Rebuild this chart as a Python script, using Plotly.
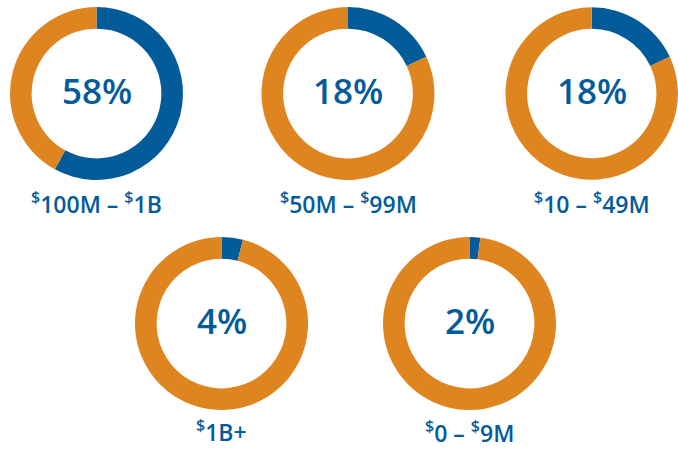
import plotly.graph_objects as go

categories = ["$100M – $1B", "$50M – $99M", "$10 – $49M", "$1B+", "$0 – $9M"]
label_html = ["<sup>$</sup>100M – <sup>$</sup>1B", "<sup>$</sup>50M – <sup>$</sup>99M",
              "<sup>$</sup>10 – <sup>$</sup>49M", "<sup>$</sup>1B+", "<sup>$</sup>0 – <sup>$</sup>9M"]
share = [58, 18, 18, 4, 2]
rest = [42, 82, 82, 96, 98]

BLUE = "#045B9A"
ORANGE = "#DF8520"
W, H = 678, 449
centers = [(96.5, 93.5), (348, 93.5), (592, 93.5), (221.5, 323.5), (469.5, 323.5)]
R = 86.5
label_y = [203, 203, 203, 431, 432]

fig = go.Figure()
for i, cat in enumerate(categories):
    cx, cy = centers[i]
    fig.add_trace(go.Pie(
        values=[share[i], rest[i]], labels=["share", "other"],
        marker=dict(colors=[BLUE, ORANGE], line=dict(width=0)),
        hole=0.75, sort=False, direction="clockwise", rotation=0,
        textinfo="none", hoverinfo="skip", showlegend=False,
        domain=dict(x=[(cx - R) / W, min(1, (cx + R) / W)],
                    y=[1 - (cy + R) / H, 1 - (cy - R) / H]),
    ))
    fig.add_annotation(x=cx / W, y=1 - (cy - 3) / H, xref="paper", yref="paper",
                       text=f"{share[i]}%", showarrow=False,
                       font=dict(family="Open Sans", size=35, color=BLUE, weight=600),
                       xanchor="center", yanchor="middle")
    fig.add_annotation(x=cx / W, y=1 - label_y[i] / H, xref="paper", yref="paper",
                       text=label_html[i], showarrow=False,
                       font=dict(family="Open Sans", size=23, color=BLUE, weight=600),
                       xanchor="center", yanchor="middle")

fig.update_layout(width=W, height=H, margin=dict(l=0, r=0, t=0, b=0),
                  paper_bgcolor="white", plot_bgcolor="white")
fig.write_html("out.html")
